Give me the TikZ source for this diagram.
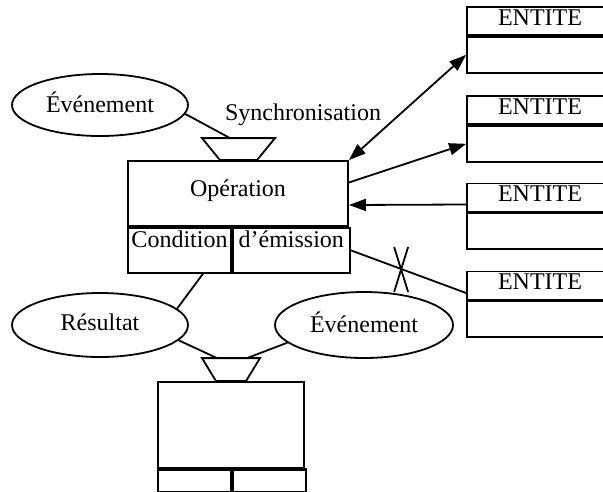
\documentclass[tikz,border=0pt]{standalone}
\usepackage{fontspec}
\setmainfont{Liberation Serif}
\usetikzlibrary{shapes.geometric, arrows.meta, positioning, calc}

\begin{document}
\begin{tikzpicture}[
      x=1pt, y=-1pt, line width=1.8pt,
      every node/.style={font=\fontsize{24}{28}\selectfont},
      evenement/.style={ellipse, draw, inner sep=0pt, minimum width=176pt, minimum height=62pt, text depth=6pt},
      opbox/.style={rectangle, draw, inner sep=0pt, minimum width=220pt, minimum height=65pt, text depth=10pt},
      cell/.style={rectangle, draw, inner xsep=0pt, inner ysep=5pt, text height=15pt, text depth=20pt, anchor=north west},
      entete/.style={rectangle, draw, inner sep=0pt, minimum width=146pt, minimum height=28pt, text depth=7pt},
      corps/.style={rectangle, draw, inner sep=0pt, minimum width=146pt, minimum height=36pt},
      arrow/.style={-{Triangle[length=17pt, width=12pt]}},
      biarrow/.style={{Triangle[length=17pt, width=12pt]}-{Triangle[length=17pt, width=12pt]}}
    ]
    \useasboundingbox (0,0) rectangle (603,491);

    % operation du haut
    \node[evenement] (evt) at (100,105) {Événement};
    \node[opbox] (op) at (238,193.5) {Opération};
    \node[cell, minimum width=103pt] (cond) at (op.south west) {Condition};
    \node[cell, minimum width=117pt] (emis) at (cond.north east) {d’émission};
    \draw ([xshift=-18pt]op.north) coordinate (sync) -- ++(-18,-22) -- ++(73,0) -- ++(-18,22) -- cycle;
    \node (synchro) at (303,115) {Synchronisation};

    % entites
    \foreach \i/\y in {1/21, 2/110, 3/197.5, 4/285.5} {
      \node[entete] (e\i) at (540,\y) {ENTITE};
      \node[corps, below=0pt of e\i] (e\i b) {};
    }

    % operation du bas
    \node[evenement, minimum height=64pt] (res) at (100,325) {Résultat};
    \node[evenement, minimum width=178pt, minimum height=66pt] (evtb) at (364,325) {Événement};
    \node[rectangle, draw, inner sep=0pt, minimum width=146pt, minimum height=86pt] (opb) at (231,425) {};
    \draw ([xshift=-15pt]opb.north) coordinate (syncb) -- ++(-14,-23) -- ++(58,0) -- ++(-14,23) -- cycle;
    \node[cell, minimum width=73pt, text height=0pt, text depth=0pt, inner ysep=11pt] (condb) at (opb.south west) {};
    \node[cell, minimum width=73pt, text height=0pt, text depth=0pt, inner ysep=11pt] (emisb) at (condb.north east) {};
    \draw[line width=2.8pt] (condb.north west) -- (emisb.north east) (condb.north east) -- (condb.south east);

    % liens
    \draw (evt.-6) -- ([shift={(10,-22)}]sync);
    \draw[biarrow] (op.north east) -- (e1b.west);
    \draw[arrow] ([yshift=11pt]op.east) -- (e2b.west);
    \draw[arrow] ([yshift=-7pt]e3.west) -- ([yshift=-11.5pt]op.east);
    \draw (emis.east) -- coordinate[pos=0.437] (coupe) ([yshift=-7.5pt]e4.west);
    \draw ([shift={(-7,-22)}]coupe) -- ([shift={(7,23)}]coupe);
    \draw ([shift={(7,-22)}]coupe) -- ([shift={(-7,23)}]coupe);
    \draw (res.12) -- ([xshift=23.5pt]cond.south);
    \draw (res.-11) -- ([shift={(1,-23)}]syncb);
    \draw (evtb.193) -- ([shift={(31,-23)}]syncb);
  \end{tikzpicture}
\end{document}
